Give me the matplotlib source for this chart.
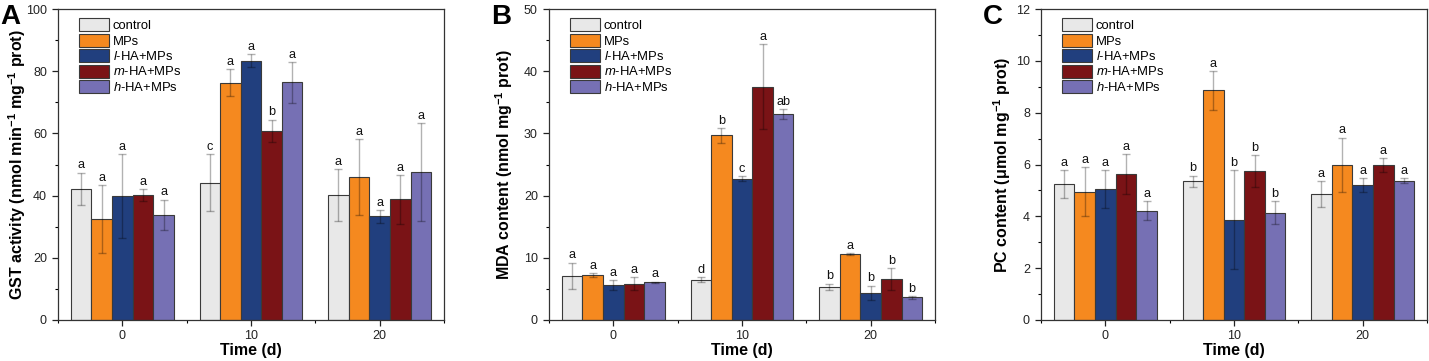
import matplotlib
matplotlib.use("Agg")
import matplotlib.pyplot as plt
import numpy as np
from matplotlib.ticker import MultipleLocator

plt.rcParams['font.family'] = ['Liberation Sans', 'DejaVu Sans']
plt.rcParams['mathtext.fontset'] = 'custom'
plt.rcParams['mathtext.rm'] = 'Liberation Sans'
plt.rcParams['mathtext.it'] = 'Liberation Sans:italic'
plt.rcParams['mathtext.bf'] = 'Liberation Sans:bold'

days = [0, 10, 20]
groups = ['control', 'MPs', '$\\mathit{l}$-HA+MPs', '$\\mathit{m}$-HA+MPs', '$\\mathit{h}$-HA+MPs']
colors = ['#E8E8E8', '#F5891F', '#213F7E', '#7A1316', '#7670B4']

# Panel A: GST activity (rows = group, cols = day)
gst_mean = [[42.2, 44.2, 40.1],
            [32.4, 76.3, 45.9],
            [39.8, 83.3, 33.3],
            [40.1, 60.8, 38.8],
            [33.8, 76.4, 47.5]]
gst_err = [[5.2, 9.2, 8.3],
           [11.0, 4.4, 12.2],
           [13.5, 2.1, 2.0],
           [1.9, 3.6, 7.9],
           [4.9, 6.6, 15.7]]
gst_letters = [['a', 'c', 'a'],
               ['a', 'a', 'a'],
               ['a', 'a', 'a'],
               ['a', 'b', 'a'],
               ['a', 'a', 'a']]

# Panel B: MDA content
mda_mean = [[7.13, 6.5, 5.3],
            [7.2, 29.7, 10.66],
            [5.57, 22.7, 4.34],
            [5.84, 37.5, 6.6],
            [6.06, 33.1, 3.64]]
mda_err = [[2.1, 0.4, 0.55],
           [0.3, 1.2, 0.15],
           [0.8, 0.4, 1.2],
           [1.0, 6.8, 1.7],
           [0.1, 0.8, 0.2]]
mda_letters = [['a', 'd', 'b'],
               ['a', 'b', 'a'],
               ['a', 'c', 'b'],
               ['a', 'a', 'b'],
               ['a', 'ab', 'b']]

# Panel C: PC content
pc_mean = [[5.23, 5.35, 4.86],
           [4.95, 8.86, 5.98],
           [5.05, 3.86, 5.21],
           [5.63, 5.75, 5.98],
           [4.22, 4.14, 5.38]]
pc_err = [[0.54, 0.22, 0.49],
          [0.94, 0.75, 1.06],
          [0.72, 1.91, 0.26],
          [0.77, 0.6, 0.27],
          [0.36, 0.45, 0.09]]
pc_letters = [['a', 'b', 'a'],
              ['a', 'a', 'a'],
              ['a', 'b', 'a'],
              ['a', 'b', 'a'],
              ['a', 'b', 'a']]

panels = [
    dict(tag='A', mean=gst_mean, err=gst_err, letters=gst_letters, ymax=100, major=20,
         ylabel='GST activity (nmol min$^{\\mathbf{-1}}$ mg$^{\\mathbf{-1}}$ prot)'),
    dict(tag='B', mean=mda_mean, err=mda_err, letters=mda_letters, ymax=50, major=10,
         ylabel='MDA content (nmol mg$^{\\mathbf{-1}}$ prot)'),
    dict(tag='C', mean=pc_mean, err=pc_err, letters=pc_letters, ymax=12, major=2,
         ylabel='PC content (\u03bcmol mg$^{\\mathbf{-1}}$ prot)'),
]

W, H = 1429, 361
fig = plt.figure(figsize=(W / 100, H / 100), dpi=100)
lefts = [58, 549, 1041]
label_x = [-0.078, -0.088, -0.0725]
bar_w = 1.6
x = np.array(days, dtype=float)

for left, lx, p in zip(lefts, label_x, panels):
    ax = fig.add_axes([left / W, (H - 320) / H, 386 / W, 311 / H])
    for i, g in enumerate(groups):
        pos = x + (i - 2) * bar_w
        ax.bar(pos, p['mean'][i], width=bar_w, color=colors[i], edgecolor='#3a3a3a',
               linewidth=0.8, label=g, zorder=2)
        ax.errorbar(pos, p['mean'][i], yerr=p['err'][i], fmt='none', ecolor='black',
                    alpha=0.3, elinewidth=1.0, capsize=3, capthick=1.0, zorder=3)
        for j in range(len(days)):
            top = p['mean'][i][j] + p['err'][i][j]
            ax.text(pos[j], top + p['ymax'] * 0.004, p['letters'][i][j], ha='center',
                    va='bottom', fontsize=9.2, color='#111111', zorder=4)
    ax.set_xlim(-5, 25)
    ax.set_ylim(0, p['ymax'])
    ax.set_xticks(days)
    ax.set_xticklabels([str(d) for d in days])
    ax.xaxis.set_minor_locator(MultipleLocator(5))
    ax.yaxis.set_major_locator(MultipleLocator(p['major']))
    ax.yaxis.set_minor_locator(MultipleLocator(p['major'] / 2))
    ax.tick_params(axis='both', which='major', direction='out', length=4.5, width=0.9,
                   labelsize=9, colors='#222222')
    ax.tick_params(axis='y', which='major', pad=3.5)
    ax.tick_params(axis='x', which='major', pad=2.5)
    ax.tick_params(axis='both', which='minor', direction='out', length=2.2, width=0.8)
    ax.tick_params(top=False, right=False, which='both')
    for s in ax.spines.values():
        s.set_linewidth(0.9)
        s.set_color('#333333')
    ax.set_xlabel('Time (d)', fontsize=11.5, fontweight='bold', labelpad=1)
    ax.set_ylabel(p['ylabel'], fontsize=11.5, fontweight='bold')
    ax.yaxis.set_label_coords(lx, 0.5)
    ax.legend(loc='upper left', bbox_to_anchor=(0.03, 1.0), frameon=False, fontsize=9.4,
              handlelength=2.3, handleheight=1.15, labelspacing=0.12, handletextpad=0.3,
              borderaxespad=0.5, borderpad=0.2)
    fig.text((left - 58) / W, 1 - 4 / H, p['tag'], fontsize=20, fontweight='bold',
             ha='left', va='top')

fig.savefig('out.png', dpi=100)
